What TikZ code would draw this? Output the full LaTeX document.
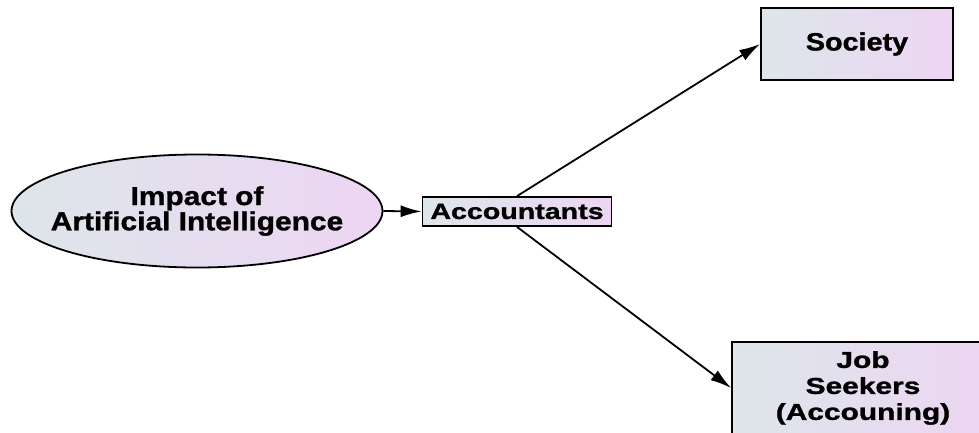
\documentclass[tikz,border=0pt]{standalone}
\usepackage{fontspec}
\newfontfamily\diagfont[FakeStretch=1.15,FakeBold=1.2]{Liberation Sans}
\newfontfamily\wideFont[FakeStretch=1.3,FakeBold=1.2]{Liberation Sans}
\usetikzlibrary{arrows.meta,positioning,shapes.geometric}

\definecolor{shadeL}{HTML}{DDE6EA}
\definecolor{shadeR}{HTML}{EDD5F3}

\tikzset{
  fillgrad/.style={draw=black,line width=1.8pt,left color=shadeL,right color=shadeR},
  boxnode/.style={fillgrad,rectangle,inner sep=0pt,align=center},
  link/.style={line width=1.8pt,-{Latex[length=21pt,width=12pt]}}
}

\begin{document}
\begin{tikzpicture}[x=1pt,y=1pt]
  \useasboundingbox (0,0) rectangle (979,432);
  \clip (0,0) rectangle (979,432);
  % Source ellipse
  \node[fillgrad,ellipse,minimum width=371pt,minimum height=113pt,inner xsep=-16pt,
    inner ysep=0pt,align=center,font=\diagfont\bfseries\fontsize{26}{22}\selectfont]
    (impact) at (197,221) {Impact of\\Artificial Intelligence};
  % Middle box
  \node[boxnode,minimum width=189pt,minimum height=29pt,
    font=\wideFont\bfseries\fontsize{22}{24}\selectfont]
    (accountants) at (517,220.5) {Accountants};
  % Targets
  \node[boxnode,minimum width=192pt,minimum height=72pt,
    font=\diagfont\bfseries\fontsize{25}{26}\selectfont] (society) at (857,388) {Society};
  \node[boxnode,minimum width=262pt,minimum height=92pt,
    font=\wideFont\bfseries\fontsize{23}{26}\selectfont] (seekers) at (863,44)
    {Job\\Seekers\\(Accouning)};
  % Arrows
  \draw[link] (impact.east) -- (accountants.west);
  \draw[link] (accountants.north) -- (society.west);
  \draw[link] (accountants.south) -- (seekers.west);
\end{tikzpicture}
\end{document}
